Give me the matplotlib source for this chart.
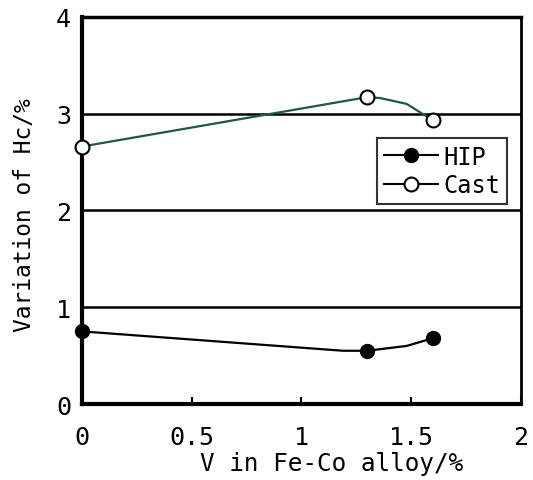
import matplotlib
matplotlib.use("Agg")
import matplotlib.pyplot as plt

# V content (%) and Hc variation (%) for the two process routes
v_marks = [0.0, 1.3, 1.6]
hip_marks = [0.75, 0.55, 0.68]
cast_marks = [2.66, 3.17, 2.93]

# the drawn curves pass through a few extra bend points
hip_line_x = [0.0, 1.19, 1.3, 1.48, 1.6]
hip_line_y = [0.75, 0.55, 0.55, 0.60, 0.68]
cast_line_x = [0.0, 1.3, 1.36, 1.48, 1.6]
cast_line_y = [2.66, 3.17, 3.16, 3.10, 2.93]

xticks = [0, 0.5, 1, 1.5, 2]
xticklabels = ["0", "0.5", "1", "1.5", "2"]
yticks = [0, 1, 2, 3, 4]

font = "DejaVu Sans Mono"

fig = plt.figure(figsize=(5.33, 4.81), dpi=100)
ax = fig.add_axes([0.154, 0.158, 0.823, 0.805])

for y in [1, 2, 3]:
    ax.axhline(y, color="black", lw=1.8, zorder=1)

ax.plot(hip_line_x, hip_line_y, color="black", lw=1.6, zorder=2)
ax.plot(cast_line_x, cast_line_y, color="#1f5a3e", lw=1.6, zorder=2)
ax.plot(v_marks, hip_marks, "o", color="black", ms=10, zorder=3, clip_on=False)
ax.plot(v_marks, cast_marks, "o", mfc="white", mec="black", mew=1.5, ms=10,
        zorder=3, clip_on=False)

# legend entries
h1, = ax.plot([], [], "-o", color="black", lw=1.5, ms=10)
h2, = ax.plot([], [], "-o", color="black", mfc="white", mew=1.5, lw=1.5, ms=10)
leg = ax.legend([h1, h2], ["HIP", "Cast"], loc="upper left",
                bbox_to_anchor=(0.672, 0.688), frameon=True, fancybox=False,
                edgecolor="black", handlelength=2.3, handletextpad=0.2,
                borderpad=0.3, labelspacing=0.2, borderaxespad=0,
                prop={"family": font, "size": 17})
leg.get_frame().set_linewidth(1.5)

ax.set_xlim(0, 2)
ax.set_ylim(0, 4)
ax.set_xticks(xticks)
ax.set_xticklabels(xticklabels, family=font, fontsize=18)
ax.set_yticks(yticks)
ax.set_yticklabels([str(v) for v in yticks], family=font, fontsize=18)
ax.tick_params(axis="x", direction="in", length=5, width=1.5, pad=15)
ax.tick_params(axis="y", direction="in", length=0, pad=8)

ax.spines["left"].set_linewidth(3)
ax.spines["bottom"].set_linewidth(3)
ax.spines["top"].set_linewidth(2.5)
ax.spines["right"].set_linewidth(2)

ax.set_xlabel("V in Fe-Co alloy/%", family=font, fontsize=17.5)
ax.set_ylabel("Variation of Hc/%", family=font, fontsize=16.5)
ax.xaxis.set_label_coords(0.569, -0.121)
ax.yaxis.set_label_coords(-0.104, 0.49)

fig.savefig("out.png", dpi=100)
